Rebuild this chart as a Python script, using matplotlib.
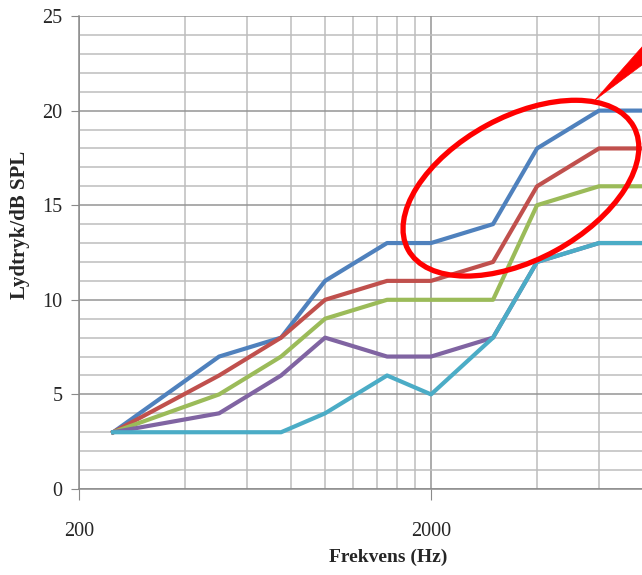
import matplotlib
matplotlib.use("Agg")
import matplotlib.pyplot as plt
from matplotlib.patches import Ellipse, Polygon
from matplotlib.ticker import FixedLocator, NullFormatter
from matplotlib.transforms import IdentityTransform

# measurement frequencies (Hz) and level per curve (dB SPL)
freqs = [250, 500, 750, 1000, 1500, 2000, 3000, 4000, 6000, 8000]
blue = [3, 7, 8, 11, 13, 13, 14, 18, 20, 20]
red = [3, 6, 8, 10, 11, 11, 12, 16, 18, 18]
green = [3, 5, 7, 9, 10, 10, 10, 15, 16, 16]
purple = [3, 4, 6, 8, 7, 7, 8, 12, 13, 13]
cyan = [3, 3, 3, 4, 6, 5, 8, 12, 13, 13]

series = [
    (blue, "#4F81BD"),
    (red, "#C0504D"),
    (green, "#9BBB59"),
    (purple, "#8064A2"),
    (cyan, "#4BACC6"),
]

x_major = [200, 2000]
x_minor = [200 * k for k in range(2, 10)] + [2000 * k for k in range(2, 4)]
y_major = [0, 5, 10, 15, 20, 25]
y_minor = list(range(0, 26))

plt.rcParams["font.family"] = ["Liberation Serif", "DejaVu Serif"]

W, H = 642, 575
fig = plt.figure(figsize=(W / 100, H / 100), dpi=100)
ax = fig.add_axes([79 / W, 86 / H, 564 / W, 473 / H])

for vals, col in series:
    ax.plot(freqs, vals, color=col, lw=3.0, solid_joinstyle="round", zorder=3)

ax.set_xscale("log")
ax.set_xlim(200, 8000)
ax.set_ylim(0, 25)

ax.xaxis.set_major_locator(FixedLocator(x_major))
ax.xaxis.set_minor_locator(FixedLocator(x_minor))
ax.xaxis.set_minor_formatter(NullFormatter())
ax.set_xticklabels([str(v) for v in x_major])
ax.yaxis.set_major_locator(FixedLocator(y_major))
ax.yaxis.set_minor_locator(FixedLocator(y_minor))

ax.grid(which="major", color="#949494", lw=1.1, zorder=0)
ax.grid(which="minor", color="#bdbdbd", lw=1.1, zorder=0)
ax.set_axisbelow(True)

for s in ("top", "right"):
    ax.spines[s].set_visible(False)
for s in ("left", "bottom"):
    ax.spines[s].set_color("#8a8a8a")
    ax.spines[s].set_linewidth(1.1)

ax.tick_params(axis="y", which="major", length=6, color="#8a8a8a", pad=6,
               labelsize=14.5, labelcolor="#262626")
ax.tick_params(axis="x", which="major", length=8, color="#8a8a8a", pad=16,
               labelsize=14.5, labelcolor="#262626")
ax.tick_params(which="minor", length=0)

ax.set_xlabel("Frekvens (Hz)", fontsize=14, fontweight="bold", va="center",
              color="#262626")
ax.xaxis.set_label_coords(309 / 564, -68 / 473)
ax.set_ylabel("Lydtryk/dB SPL", fontsize=15, fontweight="bold", va="center",
              color="#262626")
ax.yaxis.set_label_coords(-59 / 564, 264 / 473)

# red highlight ring around the high-frequency part, plus a pointer wedge
cx, cy = ax.transData.transform((3600, 15.9))
ring = Ellipse((cx, cy), 257, 143, angle=28.6, fill=False, ec="#FF0000",
               lw=3.8, transform=IdentityTransform(), zorder=5)
fig.add_artist(ring)
wedge = Polygon([(595, H - 100), (665, H - 21), (665, H - 48)], closed=True,
                fc="#FF0000", ec="#FF0000", lw=0.5,
                transform=IdentityTransform(), zorder=5)
fig.add_artist(wedge)

fig.savefig("out.png", dpi=100)
